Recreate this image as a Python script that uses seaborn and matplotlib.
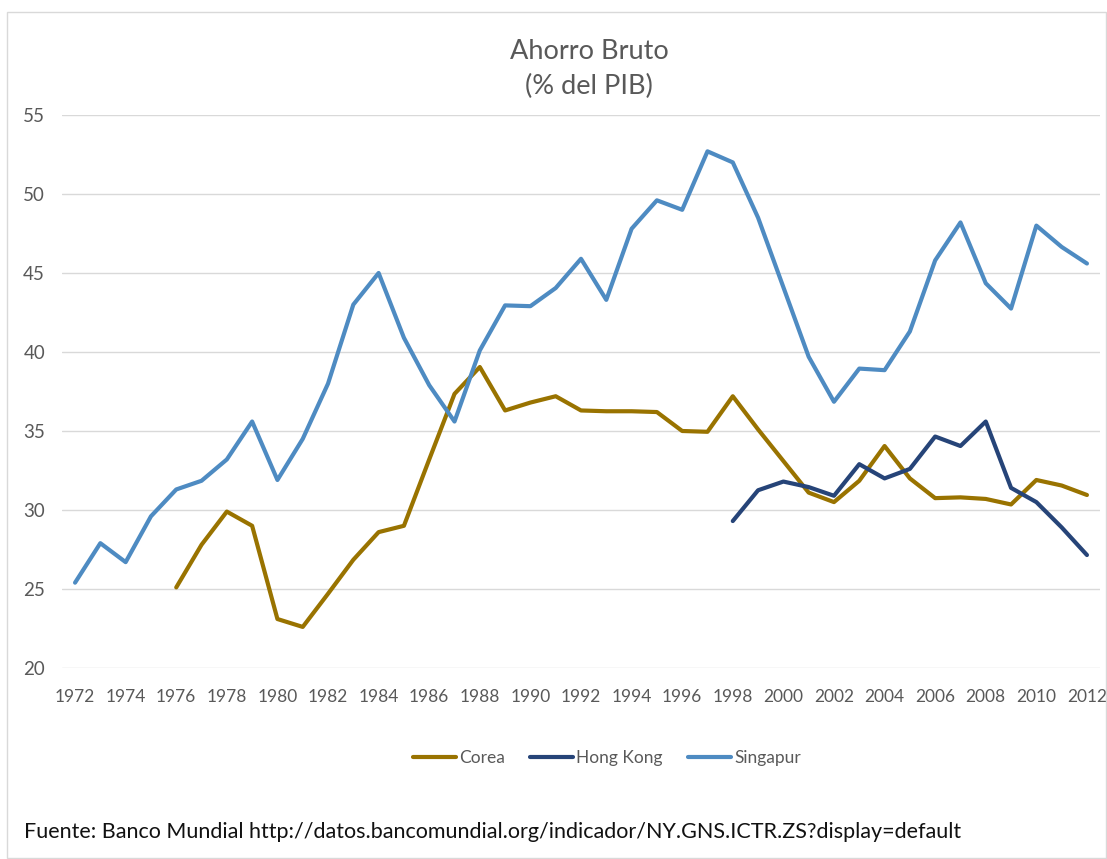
import numpy as np
import pandas as pd
import matplotlib
matplotlib.use("Agg")
import matplotlib.pyplot as plt
import seaborn as sns
from matplotlib.patches import Rectangle

# ---- data ----
years_singapur = list(range(1972, 2013))
singapur = [25.4, 27.9, 26.7, 29.6, 31.3, 31.85, 33.2, 35.6, 31.9, 34.5,
            38.0, 43.0, 45.0, 40.9, 37.9, 35.6, 40.1, 42.95, 42.9, 44.05,
            45.9, 43.3, 47.8, 49.6, 49.0, 52.7, 52.0, 48.5, 44.1, 39.7,
            36.85, 38.95, 38.85, 41.3, 45.8, 48.2, 44.35, 42.75, 48.0, 46.65,
            45.6]
years_corea = list(range(1976, 2013))
corea = [25.1, 27.8, 29.9, 29.0, 23.1, 22.6, 24.7, 26.85, 28.6, 29.0,
         33.2, 37.35, 39.05, 36.3, 36.8, 37.2, 36.3, 36.25, 36.25, 36.2,
         35.0, 34.95, 37.2, 35.1, 33.1, 31.1, 30.5, 31.85, 34.05, 32.0,
         30.75, 30.8, 30.7, 30.35, 31.9, 31.55, 30.95]
years_hk = list(range(1998, 2013))
hong_kong = [29.3, 31.25, 31.8, 31.45, 30.9, 32.9, 32.0, 32.6, 34.65, 34.05,
             35.6, 31.4, 30.5, 28.9, 27.15]
series_names = ["Corea", "Hong Kong", "Singapur"]
x_ticks = list(range(1972, 2013, 2))
y_ticks = [20, 25, 30, 35, 40, 45, 50, 55]
title_text = "Ahorro Bruto\n(% del PIB)"
source_text = "Fuente: Banco Mundial http://datos.bancomundial.org/indicador/NY.GNS.ICTR.ZS?display=default"

df = pd.concat([
    pd.DataFrame({"Año": years_corea, "Valor": corea, "País": "Corea"}),
    pd.DataFrame({"Año": years_hk, "Valor": hong_kong, "País": "Hong Kong"}),
    pd.DataFrame({"Año": years_singapur, "Valor": singapur, "País": "Singapur"}),
], ignore_index=True)

palette = {"Corea": "#997300", "Hong Kong": "#264478", "Singapur": "#4E8BC2"}

sns.set_theme(style="white")
plt.rcParams["font.family"] = ["Lato", "DejaVu Sans"]

W, H = 1107, 859
fig = plt.figure(figsize=(W / 100, H / 100), dpi=100)

# chart border
fig.patches.append(Rectangle((7 / W, 1 - 858 / H), (1106 - 7) / W, (858 - 12) / H,
                             transform=fig.transFigure, fill=False,
                             edgecolor="#D9D9D9", linewidth=1.0))

ax = fig.add_axes([62.4 / W, 1 - 668 / H, (1099.6 - 62.4) / W, (668 - 115) / H])
sns.lineplot(data=df, x="Año", y="Valor", hue="País", hue_order=series_names,
             palette=palette, linewidth=3.0, ax=ax, legend=False,
             estimator=None, sort=True)

for ln in ax.lines:
    ln.set_solid_capstyle("round")
    ln.set_solid_joinstyle("round")

ax.set_xlim(1971.5, 2012.5)
ax.set_ylim(20, 55)
ax.set_xticks(x_ticks)
ax.set_xticklabels([str(t) for t in x_ticks])
ax.set_yticks(y_ticks)
ax.set_yticklabels([str(t) for t in y_ticks])
ax.grid(axis="y", color="#D9D9D9", linewidth=1.0)
ax.grid(axis="x", visible=False)
ax.set_axisbelow(True)
for s in ["top", "right", "left", "bottom"]:
    ax.spines[s].set_visible(False)
ax.tick_params(axis="both", length=0, colors="#595959", labelsize=12.5)
ax.tick_params(axis="y", labelsize=13.5, pad=12.5)
ax.tick_params(axis="x", pad=15)
ax.set_xlabel("")
ax.set_ylabel("")

fig.text(589 / W, 1 - 69 / H, title_text, ha="center", va="center",
         fontsize=19.5, color="#595959", linespacing=1.45)

handles = [plt.Line2D([0], [0], color=palette[n], linewidth=3.0, solid_capstyle="round")
           for n in series_names]
fig.legend(handles, series_names, loc="center", bbox_to_anchor=(607 / W, 1 - 758 / H),
           ncol=3, frameon=False, fontsize=12.5, handlelength=2.45, handletextpad=0.2,
           columnspacing=1.45, labelcolor="#595959")

fig.text(24 / W, 1 - 832 / H, source_text, ha="left", va="center",
         fontsize=15.5, color="#111111")

fig.savefig("out.png", dpi=100)
